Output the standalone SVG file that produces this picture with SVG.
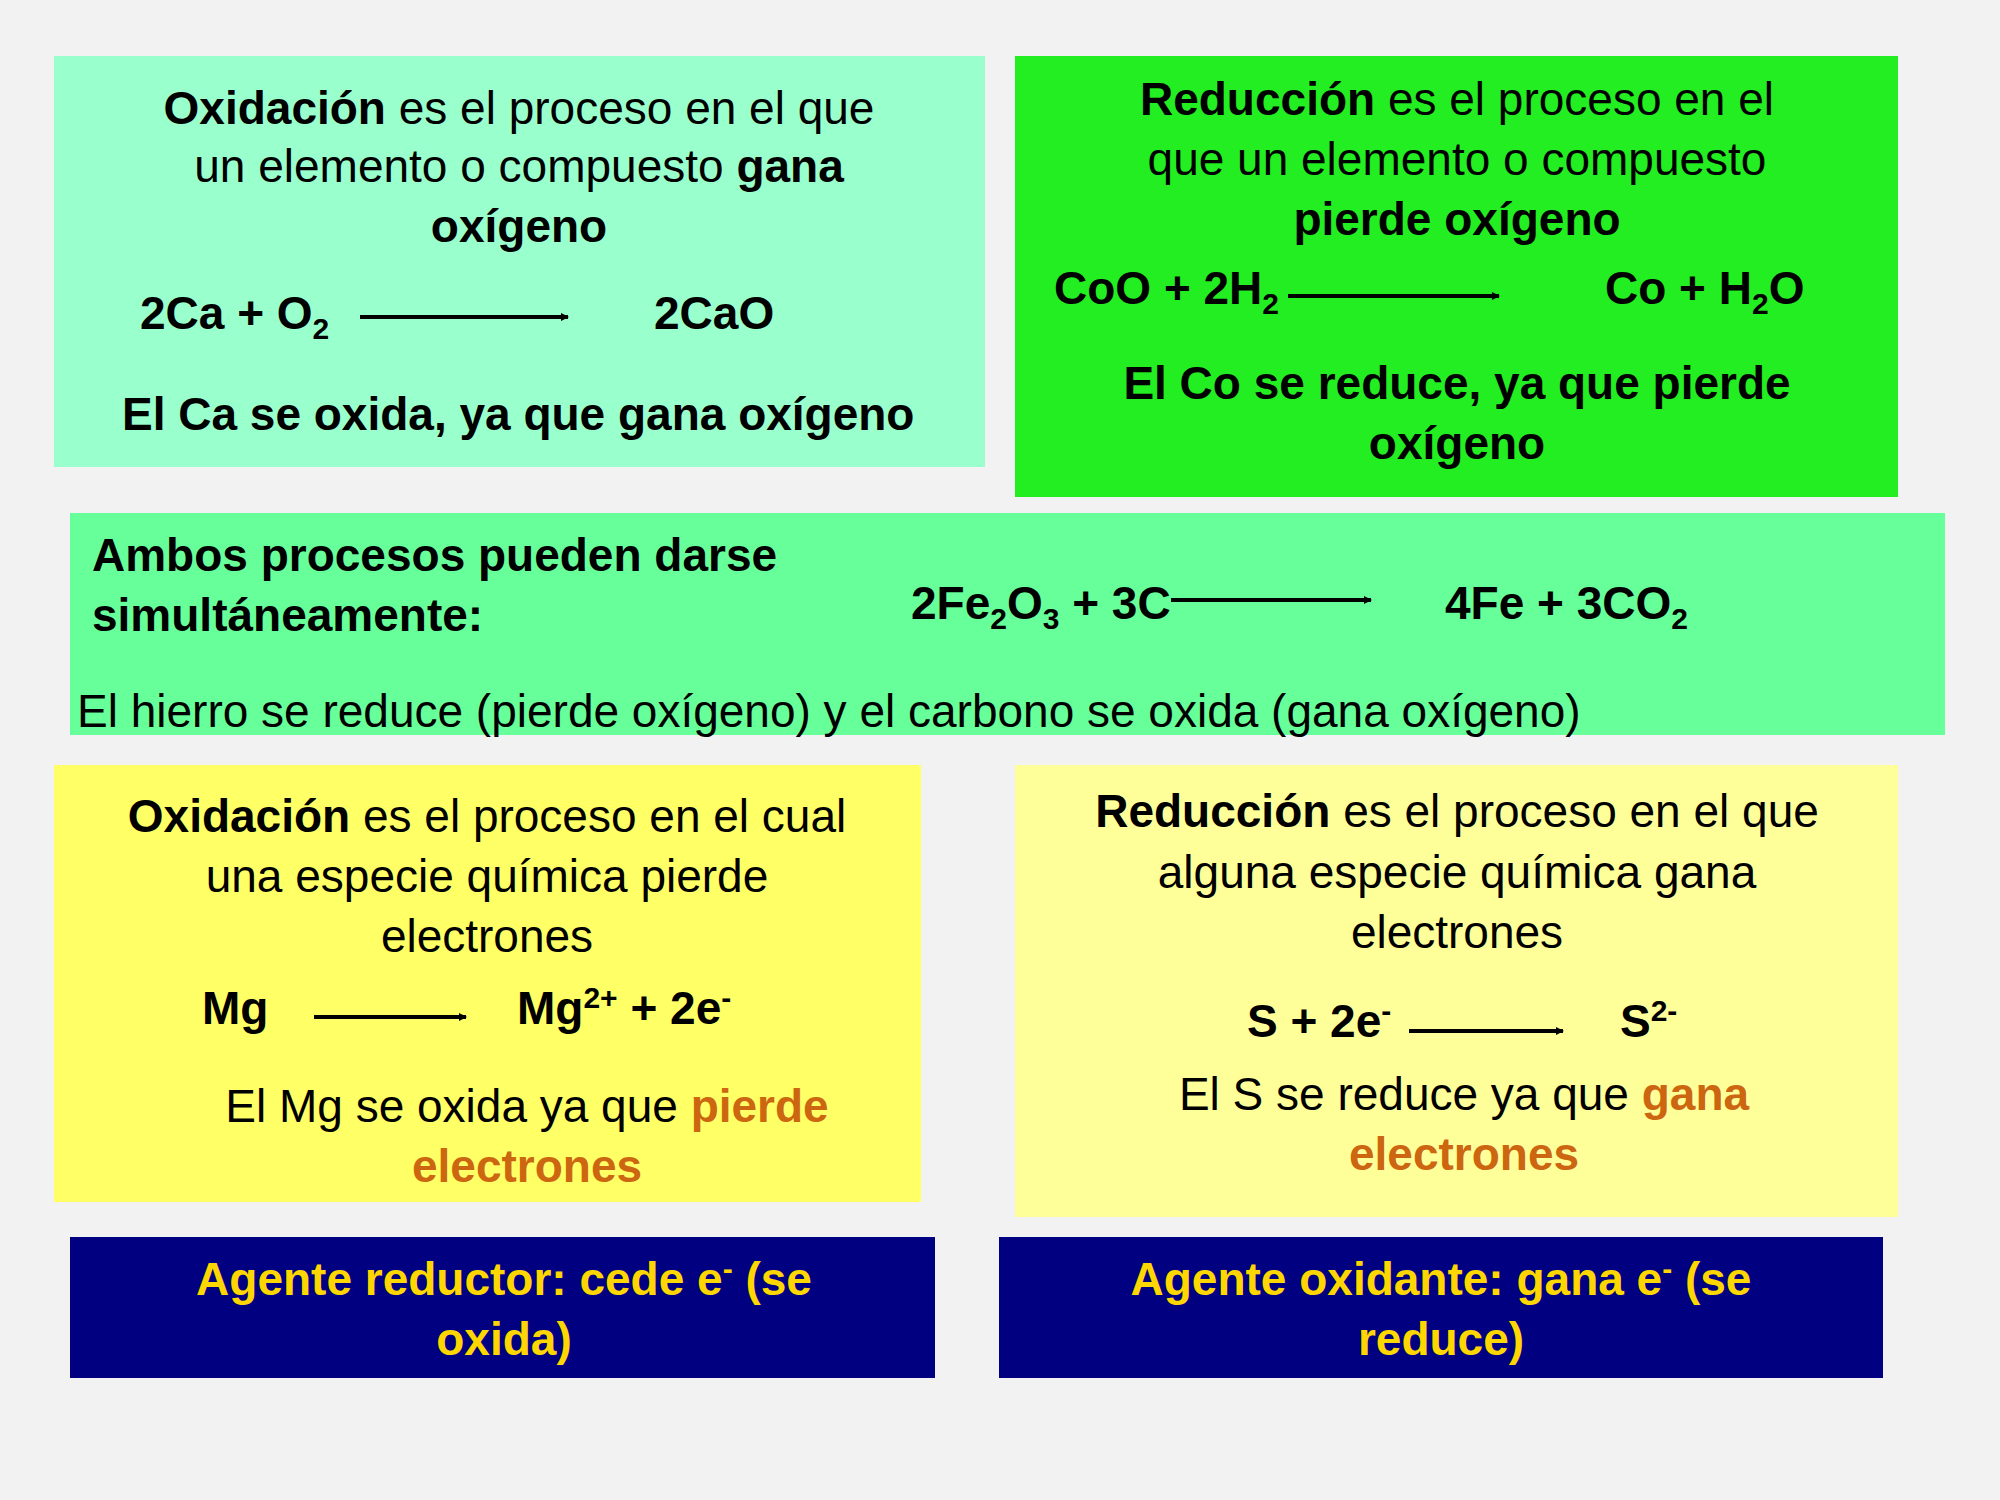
<svg xmlns="http://www.w3.org/2000/svg" width="2000" height="1500" viewBox="0 0 2000 1500">
<defs>
<marker id="ah" markerWidth="8" markerHeight="8" refX="7" refY="4" orient="auto" markerUnits="userSpaceOnUse"><path d="M0,0 L8,4 L0,8 z" fill="#000"/></marker>
<style>
text{font-family:"Liberation Sans",Arial,sans-serif;font-size:46px;fill:#000}
.c{text-anchor:middle}
.b{font-weight:bold}
.o{fill:#CC6611;font-weight:bold}
.y{fill:#FFD700;font-weight:bold}
.s{font-size:30px}
.arr{stroke:#000;stroke-width:4;marker-end:url(#ah)}
</style>
</defs>
<rect width="2000" height="1500" fill="#F2F2F2"/>
<g id="ox1">
<rect x="54" y="56" width="931" height="411" fill="#99FFCC"/>
<text x="519" y="124" class="c"><tspan class="b">Oxidación</tspan> es el  proceso en el que</text>
<text x="519" y="182" class="c">un elemento o compuesto <tspan class="b">gana</tspan></text>
<text x="519" y="242" class="c b">oxígeno</text>
<text x="140" y="329" class="b">2Ca + O<tspan class="s" dy="10">2</tspan></text>
<text x="654" y="329" class="b">2CaO</text>
<text x="122" y="430" class="b">El Ca se oxida, ya que gana oxígeno</text>
</g>
<g id="red1">
<rect x="1015" y="56" width="883" height="441" fill="#22EE22"/>
<text x="1457" y="115" class="c"><tspan class="b">Reducción</tspan> es el proceso en el</text>
<text x="1457" y="175" class="c">que un elemento o compuesto</text>
<text x="1457" y="235" class="c b">pierde oxígeno</text>
<text x="1054" y="304" class="b">CoO + 2H<tspan class="s" dy="10">2</tspan></text>
<text x="1605" y="304" class="b">Co + H<tspan class="s" dy="10">2</tspan><tspan dy="-10">O</tspan></text>
<text x="1457" y="399" class="c b">El Co se reduce, ya que pierde</text>
<text x="1457" y="459" class="c b">oxígeno</text>
</g>
<g id="ambos">
<rect x="70" y="513" width="1875" height="222" fill="#66FF99"/>
<text x="92" y="571" class="b">Ambos procesos pueden darse</text>
<text x="92" y="631" class="b">simultáneamente:</text>
<text x="911" y="619" class="b">2Fe<tspan class="s" dy="10">2</tspan><tspan dy="-10">O</tspan><tspan class="s" dy="10">3</tspan><tspan dy="-10"> + 3C</tspan></text>
<text x="1445" y="619" class="b">4Fe + 3CO<tspan class="s" dy="10">2</tspan></text>
<text x="77" y="727">El hierro se reduce (pierde oxígeno) y el carbono se oxida (gana oxígeno)</text>
</g>
<g id="ox2">
<rect x="54" y="765" width="867" height="437" fill="#FFFF66"/>
<text x="487" y="832" class="c"><tspan class="b">Oxidación</tspan> es el proceso en el cual</text>
<text x="487" y="892" class="c">una especie química pierde</text>
<text x="487" y="952" class="c">electrones</text>
<text x="202" y="1024" class="b">Mg</text>
<text x="517" y="1024" class="b">Mg<tspan class="s" dy="-16">2+</tspan><tspan dy="16"> + 2e</tspan><tspan class="s" dy="-16">-</tspan></text>
<text x="527" y="1122" class="c">El Mg se oxida ya que <tspan class="o">pierde</tspan></text>
<text x="527" y="1182" class="c o">electrones</text>
</g>
<g id="red2">
<rect x="1015" y="765" width="883" height="452" fill="#FFFF99"/>
<text x="1457" y="827" class="c"><tspan class="b">Reducción</tspan> es el proceso en el que</text>
<text x="1457" y="888" class="c">alguna especie química gana</text>
<text x="1457" y="948" class="c">electrones</text>
<text x="1247" y="1037" class="b">S + 2e<tspan class="s" dy="-16">-</tspan></text>
<text x="1620" y="1037" class="b">S<tspan class="s" dy="-16">2-</tspan></text>
<text x="1464" y="1110" class="c">El S se reduce ya que <tspan class="o">gana</tspan></text>
<text x="1464" y="1170" class="c o">electrones</text>
</g>
<g id="reductor">
<rect x="70" y="1237" width="865" height="141" fill="#000080"/>
<text x="504" y="1295" class="c y">Agente reductor: cede e<tspan class="s" dy="-16">-</tspan><tspan dy="16"> (se</tspan></text>
<text x="504" y="1355" class="c y">oxida)</text>
</g>
<g id="oxidante">
<rect x="999" y="1237" width="884" height="141" fill="#000080"/>
<text x="1441" y="1295" class="c y">Agente oxidante: gana e<tspan class="s" dy="-16">-</tspan><tspan dy="16"> (se</tspan></text>
<text x="1441" y="1355" class="c y">reduce)</text>
</g>
<g id="connectors">
<line x1="360" y1="317" x2="568" y2="317" class="arr"/>
<line x1="1288" y1="296" x2="1499" y2="296" class="arr"/>
<line x1="1171" y1="600" x2="1371" y2="600" class="arr"/>
<line x1="314" y1="1017" x2="466" y2="1017" class="arr"/>
<line x1="1409" y1="1031" x2="1563" y2="1031" class="arr"/>
</g>
</svg>
